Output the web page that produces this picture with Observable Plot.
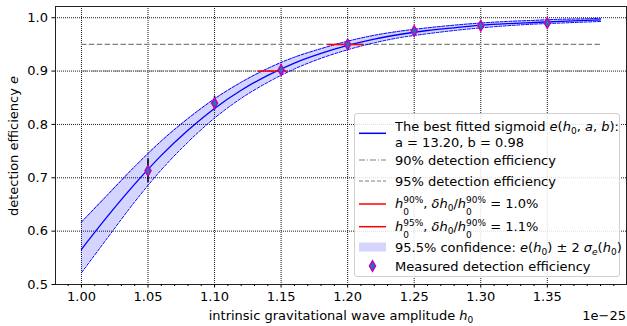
<!DOCTYPE html>
<html>
<head>
<meta charset="utf-8">
<script src="https://cdn.jsdelivr.net/npm/d3@7"></script>
<script src="https://cdn.jsdelivr.net/npm/@observablehq/plot@0.6"></script>
<style>
  html, body { margin: 0; padding: 0; background: white; }
  #fig { position: relative; width: 627px; height: 326px; font-family: "DejaVu Sans", sans-serif; font-size: 13px; color: #000; }
  #fig svg { position: absolute; left: 0; top: 0; }
  .lbl { position: absolute; white-space: nowrap; line-height: 1; }
  .m { font-style: italic; }
  .sub { font-size: 9px; position: relative; top: 0.35em; }
  .ss { position: relative; display: inline-block; font-size: 9px; }
  .ss .up { position: relative; top: -0.55em; }
  .ss .dn { position: absolute; left: 0; top: 0.75em; }
  #legend { position: absolute; left: 354px; top: 113px; width: 266px; height: 164px; background: rgba(255,255,255,0.85); border: 1px solid #d0d0d0; border-radius: 3px; box-sizing: border-box; }
  .row { position: absolute; left: 395px; white-space: nowrap; line-height: 1; transform: translateY(-50%); }
  #handles { position: absolute; left: 0; top: 0; pointer-events: none; }
</style>
</head>
<body>
<div id="fig"></div>
<script>
// ---- data (h0 in units of 1e-25) ----
const hGrid  = [1.00, 1.02, 1.04, 1.06, 1.08, 1.10, 1.12, 1.14, 1.16, 1.18, 1.20, 1.22, 1.24, 1.26, 1.28, 1.30, 1.32, 1.34, 1.36, 1.38, 1.39];
const eFit   = [0.566, 0.629, 0.688, 0.742, 0.789, 0.830, 0.864, 0.892, 0.915, 0.933, 0.948, 0.960, 0.969, 0.976, 0.981, 0.986, 0.989, 0.991, 0.993, 0.995, 0.996];
const eUpper = [0.617, 0.669, 0.721, 0.769, 0.811, 0.848, 0.879, 0.905, 0.926, 0.942, 0.956, 0.967, 0.975, 0.981, 0.986, 0.990, 0.993, 0.995, 0.997, 0.998, 0.999];
const eLower = [0.522, 0.589, 0.655, 0.715, 0.767, 0.812, 0.849, 0.879, 0.904, 0.924, 0.940, 0.953, 0.963, 0.970, 0.976, 0.981, 0.985, 0.988, 0.990, 0.992, 0.993];

const hMeas = [1.05, 1.10, 1.15, 1.20, 1.25, 1.30, 1.35];
const eMeas = [0.713, 0.840, 0.902, 0.950, 0.975, 0.985, 0.990];
const eErr  = [0.022, 0.013, 0.009, 0.007, 0.005, 0.004, 0.003];

const levels = [0.90, 0.95];
const h90Span = [1.133, 1.155];
const h95Span = [1.185, 1.2125];

const xTicks = [1.00, 1.05, 1.10, 1.15, 1.20, 1.25, 1.30, 1.35];
const yTicks = [0.5, 0.6, 0.7, 0.8, 0.9, 1.0];

// ---- tables built from the arrays ----
const curve = hGrid.map((h, i) => ({h, e: eFit[i], hi: eUpper[i], lo: eLower[i]}));
const meas = hMeas.map((h, i) => ({h, e: eMeas[i], lo: eMeas[i] - eErr[i], hi: eMeas[i] + eErr[i]}));
const redSpans = [{e: levels[0], x1: h90Span[0], x2: h90Span[1]}, {e: levels[1], x1: h95Span[0], x2: h95Span[1]}];
const hMin = hGrid[0], hMax = hGrid[hGrid.length - 1];
const minorTicks = d3.range(99, 141).map(v => v / 100).filter(v => !xTicks.some(t => Math.abs(t - v) < 1e-9));

const thinDiamond = {
  draw(ctx) {
    ctx.moveTo(0, -5.2); ctx.lineTo(3, 0); ctx.lineTo(0, 5.2); ctx.lineTo(-3, 0); ctx.closePath();
  }
};

const chart = Plot.plot({
  width: 627, height: 326,
  marginLeft: 55, marginRight: 1, marginTop: 6, marginBottom: 42,
  x: {domain: [0.9805, 1.4095]},
  y: {domain: [0.5, 1.021]},
  style: {fontFamily: "DejaVu Sans", fontSize: "13px", color: "#000", background: "white"},
  marks: [
    Plot.gridX(xTicks, {stroke: "#000", strokeOpacity: 0.9, strokeDasharray: "1,1", strokeWidth: 1}),
    Plot.gridY(yTicks, {stroke: "#000", strokeOpacity: 0.9, strokeDasharray: "1,1", strokeWidth: 1}),
    Plot.ruleY([levels[0]], {x1: hMin, x2: hMax, stroke: "#808080", strokeWidth: 1.1, strokeDasharray: "6,2,1,2"}),
    Plot.ruleY([levels[1]], {x1: hMin, x2: hMax, stroke: "#808080", strokeWidth: 1.1, strokeDasharray: "5.5,2.4"}),
    Plot.areaY(curve, {x: "h", y1: "lo", y2: "hi", fill: "#0000ff", fillOpacity: 0.17, curve: "monotone-x"}),
    Plot.line(curve, {x: "h", y: "hi", stroke: "#0000ff", strokeWidth: 1, strokeDasharray: "3,1.5", curve: "monotone-x"}),
    Plot.line(curve, {x: "h", y: "lo", stroke: "#0000ff", strokeWidth: 1, strokeDasharray: "3,1.5", curve: "monotone-x"}),
    Plot.line(curve, {x: "h", y: "e", stroke: "#0000ff", strokeWidth: 1.3, curve: "monotone-x"}),
    Plot.ruleY(redSpans, {y: "e", x1: "x1", x2: "x2", stroke: "#ff0000", strokeWidth: 1.5}),
    Plot.ruleX(meas, {x: "h", y1: "lo", y2: "hi", stroke: "#000", strokeWidth: 1.5}),
    Plot.dot(meas, {x: "h", y: "e", symbol: thinDiamond, fill: "#1f77b4", stroke: "#bf00bf", strokeWidth: 1.5}),
    Plot.frame({stroke: "#222", strokeWidth: 1}),
    Plot.axisX(minorTicks, {tickSize: 2, tickFormat: () => "", label: null}),
    Plot.axisX(xTicks, {tickSize: 3.5, tickPadding: 3.5, tickFormat: d => d.toFixed(2), label: null}),
    Plot.axisY(yTicks, {tickSize: 3.5, tickPadding: 4, tickFormat: d => d.toFixed(1), label: null})
  ]
});

const fig = document.getElementById("fig");
fig.appendChild(chart);

// ---- axis labels ----
const xl = document.createElement("div");
xl.className = "lbl";
xl.innerHTML = 'intrinsic gravitational wave amplitude <span class="m">h</span><span class="sub">0</span>';
xl.style.left = "341px"; xl.style.top = "315px"; xl.style.transform = "translate(-50%,-50%)";
fig.appendChild(xl);

const off = document.createElement("div");
off.className = "lbl";
off.innerHTML = '1e\u221225';
off.style.right = "1px"; off.style.top = "315px"; off.style.transform = "translateY(-50%)";
fig.appendChild(off);

const yl = document.createElement("div");
yl.className = "lbl";
yl.innerHTML = 'detection efficiency <span class="m">e</span>';
yl.style.left = "13px"; yl.style.top = "146px"; yl.style.transform = "translate(-50%,-50%) rotate(-90deg)";
fig.appendChild(yl);

// ---- legend ----
const leg = document.createElement("div");
leg.id = "legend";
fig.appendChild(leg);

const h0 = sup => `<span class="m">h</span><span class="ss"><span class="up">${sup}</span><span class="dn">0</span></span>`;
const rows = [
  {y: 125.7, html: 'The best fitted sigmoid <span class="m">e</span>(<span class="m">h</span><span class="sub">0</span>, <span class="m">a</span>, <span class="m">b</span>):'},
  {y: 141.8, html: 'a = 13.20, b = 0.98'},
  {y: 160, html: '90% detection efficiency'},
  {y: 180.7, html: '95% detection efficiency'},
  {y: 203, html: h0('90%') + ', <span class="m">\u03b4h</span><span class="sub">0</span>/' + h0('90%') + ' = 1.0%'},
  {y: 226.3, html: h0('95%') + ', <span class="m">\u03b4h</span><span class="sub">0</span>/' + h0('90%') + ' = 1.1%'},
  {y: 246.7, html: '95.5% confidence: <span class="m">e</span>(<span class="m">h</span><span class="sub">0</span>) \u00b1 2 <span class="m">\u03c3</span><span class="sub m">e</span>(<span class="m">h</span><span class="sub">0</span>)'},
  {y: 266, html: 'Measured detection efficiency'}
];
rows.forEach(r => {
  const d = document.createElement("div");
  d.className = "row";
  d.style.top = r.y + "px";
  d.innerHTML = r.html;
  fig.appendChild(d);
});

const ns = "http://www.w3.org/2000/svg";
const hs = document.createElementNS(ns, "svg");
hs.setAttribute("id", "handles");
hs.setAttribute("width", 627); hs.setAttribute("height", 326);
hs.innerHTML = `
  <line x1="359" x2="386" y1="133.3" y2="133.3" stroke="#0000ff" stroke-width="1.5"/>
  <line x1="359" x2="386" y1="160" y2="160" stroke="#808080" stroke-width="1.1" stroke-dasharray="6,2,1,2"/>
  <line x1="359" x2="386" y1="181" y2="181" stroke="#808080" stroke-width="1.1" stroke-dasharray="4,2"/>
  <line x1="359" x2="386" y1="204" y2="204" stroke="#ff0000" stroke-width="1.5"/>
  <line x1="359" x2="386" y1="226.7" y2="226.7" stroke="#ff0000" stroke-width="1.5"/>
  <rect x="359" y="242.5" width="27" height="9" fill="#0000ff" fill-opacity="0.17"/>
  <path d="M372.5,260.8L375.5,266L372.5,271.2L369.5,266Z" fill="#1f77b4" stroke="#bf00bf" stroke-width="1.5"/>
`;
fig.appendChild(hs);
</script>
</body>
</html>
